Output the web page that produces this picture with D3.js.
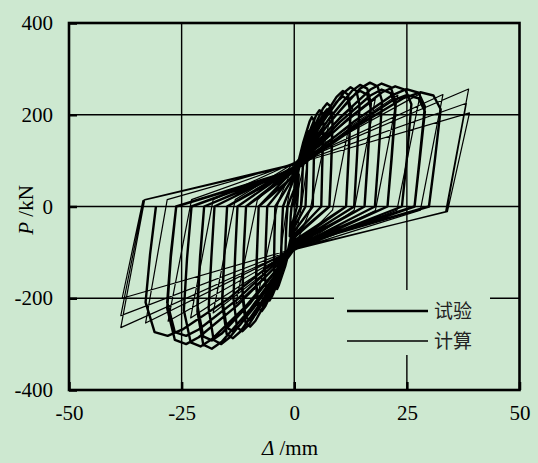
<!DOCTYPE html>
<html>
<head>
<meta charset="utf-8">
<script src="https://cdn.jsdelivr.net/npm/d3@7"></script>
<style>
  html, body { margin: 0; padding: 0; background: #cde8d0; }
  svg { display: block; }
</style>
</head>
<body>
<svg id="chart" width="538" height="463"></svg>
<script>
// Axis ticks (displacement in mm, load in kN)
const xTicks = [-50, -25, 0, 25, 50];
const yTicks = [-400, -200, 0, 200, 400];
const seriesNames = ["试验", "计算"];

// Measured load–displacement history [Δ (mm), P (kN)]
const testPath = [
  [0,0],[0.5,38],[1.0,70],[0.8,25],[0.6,0],[0,-22],[-0.5,-40],[-1.0,-65],[-0.8,-22],[-0.6,0],
  [0,25],[0.8,70],[1.5,105],[2.0,125],[1.8,55],[1.5,0],[0,-35],[-0.8,-70],[-1.5,-100],[-2.0,-115],[-1.8,-50],[-1.5,0],
  [0,38],[1.0,95],[2.2,145],[3.0,165],[2.8,75],[2.5,0],[0,-45],[-1.0,-90],[-2.2,-135],[-3.0,-150],[-2.8,-65],[-2.5,0],
  [0,62],[2.0,140],[3.4,185],[3.9,195],[4.3,189],[4.5,166],[4.3,78],[4.1,0],
  [0,-54],[-2.0,-130],[-3.4,-171],[-3.8,-180],[-4.2,-175],[-4.5,-133],[-4.4,-67],[-4.2,0],
  [0,67],[2.9,151],[4.9,200],[5.6,210],[6.2,204],[6.5,179],[6.2,84],[6.0,0],
  [0,-62],[-2.9,-148],[-4.9,-195],[-5.5,-205],[-6.1,-199],[-6.5,-152],[-6.3,-76],[-6.0,0],
  [0,72],[3.8,162],[6.4,214],[7.3,225],[8.1,218],[8.5,191],[8.2,90],[7.8,0],
  [0,-68],[-3.8,-164],[-6.4,-217],[-7.2,-228],[-8.0,-221],[-8.5,-169],[-8.2,-84],[-7.9,0],
  [0,68],[3.8,153],[6.4,201],[7.3,212],[8.1,206],[8.5,180],[8.2,85],[7.8,0],
  [0,-65],[-3.8,-155],[-6.4,-204],[-7.2,-215],[-8.0,-209],[-8.5,-159],[-8.2,-80],[-7.9,0],
  [0,81],[5.6,181],[9.4,239],[10.8,252],[11.9,244],[12.5,214],[12.0,101],[11.5,0],
  [0,-79],[-5.2,-189],[-8.6,-249],[-9.8,-262],[-10.8,-254],[-11.5,-194],[-11.2,-97],[-10.7,0],
  [0,77],[5.6,173],[9.4,228],[10.8,240],[11.9,233],[12.5,204],[12.0,96],[11.5,0],
  [0,-74],[-5.2,-179],[-8.6,-236],[-9.8,-248],[-10.8,-241],[-11.5,-184],[-11.2,-92],[-10.7,0],
  [0,83],[6.5,187],[10.9,247],[12.5,260],[13.8,252],[14.5,221],[13.9,104],[13.3,0],
  [0,-82],[-6.1,-196],[-10.1,-258],[-11.5,-272],[-12.7,-264],[-13.5,-201],[-13.1,-101],[-12.6,0],
  [0,85],[7.7,191],[12.8,252],[14.6,265],[16.2,257],[17.0,225],[16.3,106],[15.6,0],
  [0,-86],[-7.2,-207],[-12.0,-273],[-13.6,-287],[-15.0,-278],[-16.0,-212],[-15.5,-106],[-14.9,0],
  [0,81],[7.7,181],[12.8,239],[14.6,252],[16.2,244],[17.0,214],[16.3,101],[15.6,0],
  [0,-82],[-7.2,-196],[-12.0,-258],[-13.6,-272],[-15.0,-264],[-16.0,-201],[-15.5,-101],[-14.9,0],
  [0,86],[8.8,194],[14.6,257],[16.8,270],[18.5,262],[19.5,230],[18.7,108],[17.9,0],
  [0,-90],[-8.6,-216],[-14.3,-285],[-16.2,-300],[-17.9,-291],[-19.0,-222],[-18.4,-111],[-17.7,0],
  [0,86],[10.1,193],[16.9,255],[19.4,268],[21.4,260],[22.5,228],[21.6,107],[20.7,0],
  [0,-93],[-9.7,-223],[-16.1,-295],[-18.3,-310],[-20.2,-301],[-21.5,-229],[-20.9,-115],[-20.0,0],
  [0,82],[10.1,184],[16.9,242],[19.4,255],[21.4,247],[22.5,217],[21.6,102],[20.7,0],
  [0,-88],[-9.7,-210],[-16.1,-277],[-18.3,-292],[-20.2,-283],[-21.5,-216],[-20.9,-108],[-20.0,0],
  [0,84],[11.7,189],[19.5,249],[22.4,262],[24.7,254],[26.0,223],[25.0,105],[23.9,0],
  [0,-92],[-11.0,-220],[-18.4,-290],[-20.8,-305],[-23.0,-296],[-24.5,-226],[-23.8,-113],[-22.8,0],
  [0,82],[13.1,184],[21.8,243],[24.9,256],[27.6,248],[29.0,218],[27.8,102],[26.7,0],
  [0,-90],[-12.7,-216],[-21.2,-285],[-24.0,-300],[-26.5,-291],[-28.2,-222],[-27.4,-111],[-26.2,0],
  [0,78],[13.1,175],[21.8,231],[24.9,243],[27.6,236],[29.0,207],[27.8,97],[26.7,0],
  [0,-85],[-12.7,-203],[-21.2,-268],[-24.0,-282],[-26.5,-274],[-28.2,-209],[-27.4,-104],[-26.2,0],
  [0,80],[14.6,179],[24.4,237],[28.0,249],[30.9,242],[32.5,212],[31.2,100],[29.9,0],
  [0,-85],[-14.9,-203],[-24.8,-268],[-28.1,-282],[-31.0,-274],[-33.0,-209],[-32.0,-104],[-30.7,0]
];

// Computed load–displacement history [Δ (mm), P (kN)]
const calcPath = [
  [0,0],[4,170],[1.5,-5],[0,-82],[-4,-165],[-1.5,8],[0,86],
  [8,195],[3.5,-8],[0,-92],[-8,-190],[-3.5,12],[0,94],
  [13,218],[8.5,-8],[0,-94],[-13,-213],[-8.2,14],[0,95],
  [18,235],[13.3,-8],[0,-95],[-18,-232],[-13.1,15],[0,95],
  [23,243],[18,-9],[0,-96],[-23,-243],[-18,15],[0,96],
  [28,246],[22.8,-8],[0,-95],[-28,-250],[-22.8,15],[0,95],
  [33,244],[28,-8],[0,-94],[-33,-254],[-28.2,15],[0,94],
  [38.7,256],[33.6,-11],[0,-94],[-38.5,-264],[-33.2,15],[0,93],
  [38.2,225],[33.8,-11],[0,-93],[-38.5,-238],[-33.4,14],[0,92],
  [38.9,204],[34,-11],[0,-92],[-38.2,-200],[-33.6,13],[0,90]
];

const W = 538, H = 463;
const m = { left: 69, right: 519.5, top: 23, bottom: 390 };
const bg = "#cde8d0";
const serif = "'Liberation Serif','Times New Roman',serif";

const svg = d3.select("#chart");
svg.append("rect").attr("width", W).attr("height", H).attr("fill", bg);

const x = d3.scaleLinear().domain([-50, 50]).range([m.left, m.right]);
const y = d3.scaleLinear().domain([-400, 400]).range([m.bottom, m.top]);

// Grid lines
const grid = svg.append("g").attr("stroke", "#000").attr("stroke-width", 1.4);
xTicks.slice(1, -1).forEach(v => {
  grid.append("line").attr("x1", x(v)).attr("x2", x(v)).attr("y1", m.top).attr("y2", m.bottom);
});
yTicks.slice(1, -1).forEach(v => {
  grid.append("line").attr("x1", m.left).attr("x2", m.right).attr("y1", y(v)).attr("y2", y(v));
});

// Legend panel sits over the grid
svg.append("rect").attr("x", 334).attr("y", 290).attr("width", 156).attr("height", 65).attr("fill", bg);

// Curves
const line = d3.line().x(d => x(d[0])).y(d => y(d[1]));
svg.append("path").datum(calcPath).attr("d", line)
  .attr("fill", "none").attr("stroke", "#000").attr("stroke-width", 1.2).attr("stroke-linejoin", "round");
svg.append("path").datum(testPath).attr("d", line)
  .attr("fill", "none").attr("stroke", "#000").attr("stroke-width", 2.4).attr("stroke-linejoin", "round");

// Axes with inward ticks
const fmt = d => String(d);
const xAxis = d3.axisBottom(x).tickValues(xTicks).tickSize(-8).tickPadding(15).tickFormat(fmt);
const yAxis = d3.axisLeft(y).tickValues(yTicks).tickSize(-8).tickPadding(16).tickFormat(fmt);

const gx = svg.append("g").attr("transform", `translate(0,${m.bottom})`).call(xAxis);
const gy = svg.append("g").attr("transform", `translate(${m.left},0)`).call(yAxis);
[gx, gy].forEach(g => {
  g.select(".domain").remove();
  g.selectAll(".tick line").attr("stroke", "#000").attr("stroke-width", 2.5);
  g.selectAll(".tick text").attr("fill", "#000").style("font-family", serif).style("font-size", "21px");
});
gx.selectAll(".tick text").attr("dy", "0.71em");

// Plot frame
svg.append("rect").attr("x", m.left).attr("y", m.top)
  .attr("width", m.right - m.left).attr("height", m.bottom - m.top)
  .attr("fill", "none").attr("stroke", "#000").attr("stroke-width", 2.6);

// Axis titles
const xt = svg.append("text").attr("x", 290).attr("y", 455).attr("text-anchor", "middle")
  .style("font-family", serif).style("font-size", "21px").attr("fill", "#000");
xt.append("tspan").style("font-style", "italic").text("Δ");
xt.append("tspan").text(" /mm");

const yt = svg.append("text").attr("transform", "translate(33,210) rotate(-90)").attr("text-anchor", "middle")
  .style("font-family", serif).style("font-size", "21px").attr("fill", "#000");
yt.append("tspan").style("font-style", "italic").text("P");
yt.append("tspan").text(" /kN");

// Legend
const lg = svg.append("g");
[[311, 2.5], [341, 1.6]].forEach(([ly, sw], i) => {
  lg.append("line").attr("x1", 347).attr("x2", 428).attr("y1", ly).attr("y2", ly)
    .attr("stroke", "#000").attr("stroke-width", sw);
  lg.append("text").attr("x", 434).attr("y", ly + 7).text(seriesNames[i])
    .style("font-family", "'Noto Sans CJK SC',sans-serif").style("font-size", "19px").attr("fill", "#222");
});
</script>
</body>
</html>
